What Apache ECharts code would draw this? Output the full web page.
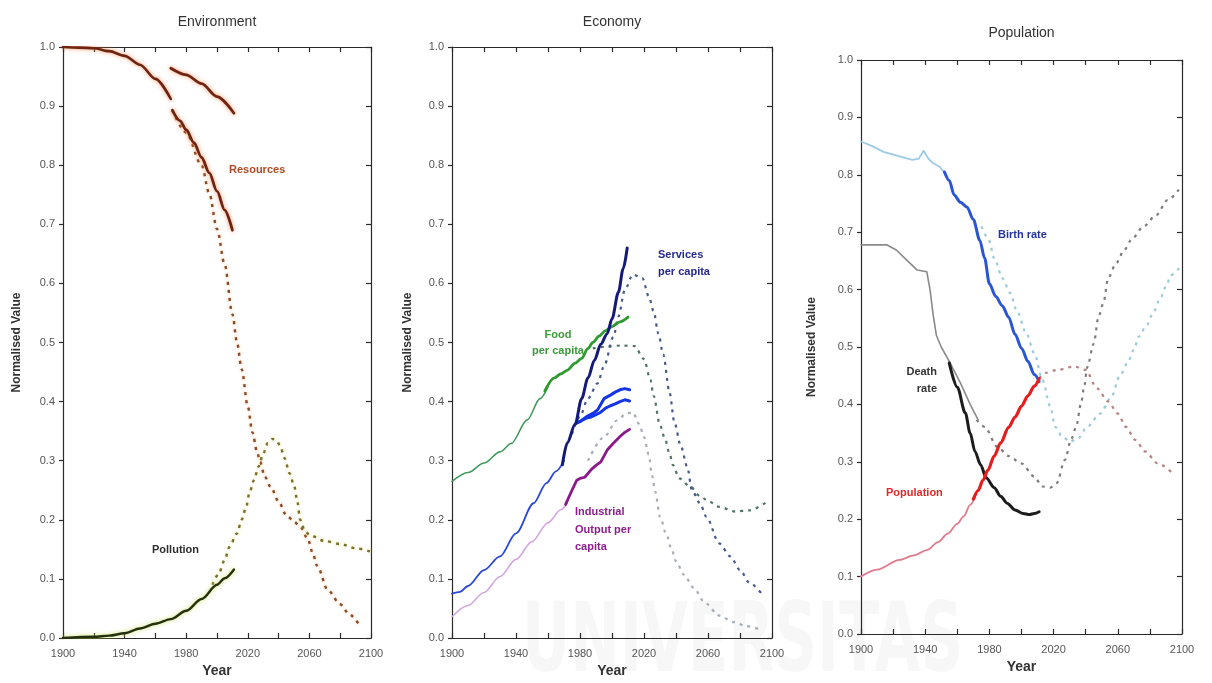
<!DOCTYPE html>
<html>
<head>
<meta charset="utf-8">
<title>Environment, Economy, Population</title>
<script src="https://cdn.jsdelivr.net/npm/echarts/dist/echarts.min.js"></script>
<style>
  html, body { margin: 0; padding: 0; background: #fff; }
  #chart { width: 1212px; height: 683px; }
</style>
</head>
<body>
<div id="chart"></div>
<script>
// ---------- Environment ----------
const resHistAYears = [1900, 1910, 1920, 1930, 1940, 1950, 1960, 1970];
const resHistAVals  = [1.000, 0.999, 0.998, 0.993, 0.985, 0.970, 0.946, 0.912];
const resHistBYears = [1971, 1976, 1980, 1985, 1990, 1995, 2000, 2005, 2010];
const resHistBVals  = [0.893, 0.875, 0.860, 0.838, 0.813, 0.787, 0.756, 0.724, 0.690];
const resHistCYears = [1970, 1980, 1990, 2000, 2011];
const resHistCVals  = [0.964, 0.953, 0.938, 0.916, 0.888];
const resModelYears = [1971, 1980, 1990, 1995, 2000, 2005, 2010, 2013, 2016, 2020, 2023, 2026, 2028, 2031, 2035, 2040, 2045, 2050, 2054, 2059, 2062, 2065, 2072, 2080, 2086, 2093];
const resModelVals  = [0.893, 0.855, 0.800, 0.752, 0.692, 0.632, 0.548, 0.500, 0.455, 0.392, 0.348, 0.315, 0.298, 0.273, 0.255, 0.231, 0.208, 0.197, 0.188, 0.168, 0.145, 0.122, 0.081, 0.057, 0.040, 0.020];
const polHistYears  = [1900, 1920, 1930, 1940, 1950, 1960, 1970, 1980, 1990, 2000, 2005, 2011];
const polHistVals   = [0.000, 0.002, 0.004, 0.008, 0.016, 0.024, 0.032, 0.046, 0.066, 0.090, 0.101, 0.116];
const polModelYears = [1997, 2001, 2005, 2008, 2013, 2016, 2019, 2021, 2024, 2027, 2030, 2033, 2036, 2039, 2041, 2044, 2047, 2050, 2052, 2054, 2057, 2060, 2070, 2080, 2090, 2100];
const polModelVals  = [0.090, 0.108, 0.132, 0.154, 0.177, 0.200, 0.222, 0.245, 0.267, 0.290, 0.312, 0.330, 0.337, 0.333, 0.325, 0.304, 0.279, 0.259, 0.234, 0.200, 0.182, 0.174, 0.164, 0.159, 0.152, 0.146];

// ---------- Economy ----------
const foodHistAYears = [1900, 1910, 1920, 1930, 1937, 1947, 1955, 1960];
const foodHistAVals  = [0.265, 0.280, 0.296, 0.315, 0.329, 0.369, 0.405, 0.425];
const foodHistBYears = [1958, 1964, 1968, 1972, 1977, 1981, 1985, 1988, 1992, 1996, 2000, 2005, 2010];
const foodHistBVals  = [0.418, 0.440, 0.447, 0.453, 0.465, 0.473, 0.490, 0.500, 0.511, 0.520, 0.527, 0.535, 0.543];
const svcHistAYears  = [1900, 1905, 1910, 1920, 1930, 1940, 1951, 1959, 1965, 1970];
const svcHistAVals   = [0.075, 0.078, 0.088, 0.115, 0.138, 0.177, 0.228, 0.262, 0.282, 0.300];
const svcHistBYears  = [1969, 1972, 1977, 1981, 1985, 1989, 1993, 1997, 2000, 2004, 2007, 2009.5];
const svcHistBVals   = [0.293, 0.330, 0.362, 0.405, 0.440, 0.470, 0.497, 0.515, 0.540, 0.585, 0.625, 0.660];
const svcDataAYears  = [1978, 1980, 1982, 1985, 1988, 1991, 1995, 1999, 2002, 2005, 2008, 2011];
const svcDataAVals   = [0.364, 0.366, 0.370, 0.376, 0.380, 0.386, 0.405, 0.411, 0.416, 0.420, 0.422, 0.420];
const svcDataBYears  = [1978, 1981, 1984, 1987, 1990, 1993, 1996, 1999, 2002, 2005, 2008, 2011];
const svcDataBVals   = [0.364, 0.368, 0.372, 0.374, 0.378, 0.382, 0.389, 0.393, 0.396, 0.400, 0.403, 0.401];
const indHistAYears  = [1900, 1910, 1920, 1930, 1940, 1950, 1960, 1968, 1972];
const indHistAVals   = [0.036, 0.055, 0.077, 0.104, 0.133, 0.163, 0.195, 0.217, 0.228];
const indHistBYears  = [1971, 1975, 1978, 1980, 1983, 1987, 1990, 1993, 1997, 2001, 2005, 2008, 2011];
const indHistBVals   = [0.226, 0.250, 0.267, 0.270, 0.272, 0.285, 0.292, 0.298, 0.318, 0.330, 0.341, 0.348, 0.353];
const svcModelYears  = [1975, 1980, 1985, 1991, 1995, 2001, 2004, 2008, 2013, 2019, 2023, 2026, 2029, 2032, 2036, 2039, 2043, 2047, 2050, 2055, 2059, 2067, 2074, 2080, 2086, 2095];
const svcModelVals   = [0.345, 0.375, 0.405, 0.431, 0.460, 0.510, 0.544, 0.589, 0.615, 0.609, 0.578, 0.553, 0.515, 0.480, 0.415, 0.365, 0.325, 0.290, 0.250, 0.228, 0.205, 0.160, 0.138, 0.115, 0.093, 0.070];
const foodModelYears = [1988, 1996, 2006, 2014, 2020, 2024, 2026, 2030, 2033, 2036, 2038, 2042, 2049, 2055, 2060, 2067, 2077, 2086, 2096];
const foodModelVals  = [0.490, 0.493, 0.495, 0.494, 0.472, 0.437, 0.410, 0.360, 0.338, 0.312, 0.293, 0.270, 0.256, 0.240, 0.232, 0.222, 0.214, 0.216, 0.229];
const indModelYears  = [1985, 1995, 2003, 2009, 2013, 2017, 2020, 2023, 2025, 2027, 2030, 2034, 2037, 2040, 2045, 2051, 2058, 2067, 2076, 2084, 2093];
const indModelVals   = [0.300, 0.340, 0.368, 0.380, 0.382, 0.362, 0.340, 0.310, 0.275, 0.248, 0.205, 0.175, 0.152, 0.130, 0.107, 0.085, 0.060, 0.038, 0.027, 0.020, 0.014];

// ---------- Population ----------
const birthHistAYears = [1900, 1907, 1914, 1924, 1932, 1936, 1939, 1942, 1945, 1949, 1954];
const birthHistAVals  = [0.858, 0.850, 0.840, 0.832, 0.826, 0.828, 0.842, 0.828, 0.820, 0.814, 0.797];
const birthHistBYears = [1952, 1955, 1958, 1962, 1966, 1970, 1974, 1977, 1980, 1984, 1988, 1992, 1996, 2000, 2004, 2008, 2011];
const birthHistBVals  = [0.805, 0.790, 0.765, 0.752, 0.744, 0.722, 0.686, 0.655, 0.610, 0.588, 0.572, 0.552, 0.522, 0.498, 0.475, 0.452, 0.440];
const deathHistAYears = [1900, 1916, 1922, 1929, 1935, 1941, 1943, 1945, 1947, 1950, 1955, 1962, 1968, 1973];
const deathHistAVals  = [0.678, 0.678, 0.669, 0.650, 0.634, 0.631, 0.600, 0.555, 0.520, 0.500, 0.475, 0.437, 0.400, 0.373];
const deathHistBYears = [1955, 1960, 1965, 1968, 1971, 1974.5, 1978, 1983, 1987, 1991, 1996, 2001, 2005, 2008, 2011];
const deathHistBVals  = [0.472, 0.430, 0.385, 0.350, 0.318, 0.295, 0.272, 0.255, 0.240, 0.228, 0.216, 0.210, 0.208, 0.210, 0.213];
const popHistAYears   = [1900, 1910, 1924, 1933, 1941, 1948, 1954, 1960, 1964, 1968, 1972];
const popHistAVals    = [0.100, 0.112, 0.129, 0.137, 0.146, 0.160, 0.175, 0.192, 0.205, 0.225, 0.245];
const popHistBYears   = [1970, 1973, 1976, 1979, 1983, 1987, 1992, 1996, 2000, 2004, 2008, 2011];
const popHistBVals    = [0.235, 0.250, 0.268, 0.285, 0.310, 0.333, 0.360, 0.378, 0.397, 0.415, 0.432, 0.445];
const birthModelYears = [1975, 1979, 1984, 1988, 1993, 1997, 2003, 2008, 2013, 2018, 2021, 2025, 2030, 2035, 2041, 2049, 2056, 2061, 2066, 2070, 2073, 2078, 2082, 2086, 2090, 2093, 2099];
const birthModelVals  = [0.710, 0.690, 0.648, 0.620, 0.594, 0.564, 0.524, 0.489, 0.443, 0.396, 0.361, 0.345, 0.335, 0.340, 0.361, 0.384, 0.413, 0.448, 0.472, 0.495, 0.518, 0.538, 0.559, 0.582, 0.605, 0.625, 0.640];
const deathModelYears = [1972, 1977, 1985, 1992, 2000, 2008, 2013, 2018, 2022, 2027, 2031, 2034, 2037, 2039, 2041, 2045, 2048, 2051, 2054, 2059, 2064, 2069, 2076, 2084, 2091, 2098];
const deathModelVals  = [0.373, 0.361, 0.326, 0.310, 0.297, 0.274, 0.257, 0.255, 0.263, 0.303, 0.340, 0.360, 0.400, 0.430, 0.465, 0.506, 0.553, 0.576, 0.620, 0.646, 0.669, 0.689, 0.710, 0.730, 0.756, 0.774];
const popModelYears   = [2011, 2015, 2022, 2033, 2040, 2047, 2054, 2060, 2065, 2071, 2077, 2085, 2095];
const popModelVals    = [0.445, 0.455, 0.460, 0.466, 0.460, 0.428, 0.405, 0.384, 0.361, 0.338, 0.318, 0.297, 0.278];

// ---------- Axis tick values ----------
const yearMin = 1900, yearMax = 2100, yearStep = 20, yearLabelStep = 40;
const valueMin = 0, valueMax = 1, valueStep = 0.1;

const FONT = '"Liberation Sans", Arial, sans-serif';
const AXIS_COLOR = '#2a2a2a';

// panel frames (pixels)
const panels = [
  { left: 63,  top: 47, width: 308, height: 591, title: 'Environment', titleY: 22, nameGap: 40 },
  { left: 452, top: 47, width: 320, height: 591, title: 'Economy',     titleY: 22, nameGap: 38 },
  { left: 861, top: 60, width: 321, height: 574, title: 'Population',  titleY: 33, nameGap: 43 }
];

function pairs(xs, ys) { return xs.map((x, i) => [x, ys[i]]); }

function line(panel, xs, ys, color, width, opts) {
  opts = opts || {};
  const dotted = !!opts.dash;
  const ls = { color: color, width: width, type: opts.dash || 'solid', cap: dotted ? 'butt' : 'round', join: 'round' };
  if (opts.glow) { ls.shadowColor = opts.glow; ls.shadowBlur = opts.glowBlur || 4; }
  return {
    type: 'line',
    xAxisIndex: panel * 2,
    yAxisIndex: panel * 2,
    data: pairs(xs, ys),
    showSymbol: false,
    symbol: 'none',
    smooth: opts.smooth === undefined ? 0.3 : opts.smooth,
    smoothMonotone: 'x',
    silent: true,
    z: opts.z || 2,
    lineStyle: ls
  };
}

const DOT = [3, 5];

const series = [
  // Environment
  line(0, resModelYears, resModelVals, '#8a4a28', 2.4, { dash: DOT, glow: 'rgba(240,160,90,0.7)', glowBlur: 3 }),
  line(0, polModelYears, polModelVals, '#77702e', 2.4, { dash: DOT, glow: 'rgba(235,225,110,0.8)', glowBlur: 3 }),
  line(0, resHistAYears, resHistAVals, '#6e2410', 2.6, { glow: 'rgba(235,120,60,0.8)', z: 3 }),
  line(0, resHistBYears, resHistBVals, '#6e2410', 2.8, { glow: 'rgba(235,120,60,0.8)', z: 3 }),
  line(0, resHistCYears, resHistCVals, '#6e2410', 2.8, { glow: 'rgba(235,120,60,0.8)', z: 3 }),
  line(0, polHistYears, polHistVals, '#24300e', 2.4, { glow: 'rgba(200,220,80,0.9)', z: 3 }),

  // Economy
  line(1, indModelYears, indModelVals, '#a6adb6', 2.2, { dash: DOT }),
  line(1, foodModelYears, foodModelVals, '#4f7466', 2.2, { dash: DOT }),
  line(1, svcModelYears, svcModelVals, '#45598c', 2.2, { dash: DOT }),
  line(1, foodHistAYears, foodHistAVals, '#3f9a5a', 1.6, { z: 3 }),
  line(1, foodHistBYears, foodHistBVals, '#2f9a2f', 2.8, { z: 3 }),
  line(1, indHistAYears, indHistAVals, '#d2a6de', 1.6, { z: 3 }),
  line(1, indHistBYears, indHistBVals, '#8a1a8c', 2.8, { z: 3, smooth: 0 }),
  line(1, svcHistAYears, svcHistAVals, '#2a48d8', 1.8, { z: 3 }),
  line(1, svcDataAYears, svcDataAVals, '#1434e6', 3.0, { z: 3, smooth: 0 }),
  line(1, svcDataBYears, svcDataBVals, '#1434e6', 3.0, { z: 3, smooth: 0 }),
  line(1, svcHistBYears, svcHistBVals, '#141a78', 3.0, { z: 4 }),

  // Population
  line(2, birthModelYears, birthModelVals, '#9ccbd8', 2.2, { dash: DOT }),
  line(2, deathModelYears, deathModelVals, '#7c7c7c', 2.2, { dash: DOT }),
  line(2, popModelYears, popModelVals, '#b88080', 2.2, { dash: DOT }),
  line(2, birthHistAYears, birthHistAVals, '#9ccbe6', 1.8, { z: 3, smooth: 0 }),
  line(2, birthHistBYears, birthHistBVals, '#2a56d6', 3.0, { z: 3 }),
  line(2, deathHistAYears, deathHistAVals, '#8a8a8a', 1.6, { z: 3, smooth: 0 }),
  line(2, deathHistBYears, deathHistBVals, '#1c1c1c', 3.0, { z: 3 }),
  line(2, popHistAYears, popHistAVals, '#e07a8c', 1.8, { z: 3 }),
  line(2, popHistBYears, popHistBVals, '#e81c1c', 3.2, { z: 4 })
];

const grids = panels.map(p => ({ left: p.left, top: p.top, width: p.width, height: p.height, containLabel: false }));

const xAxes = [];
const yAxes = [];
panels.forEach((p, g) => {
  const lineStyle = { color: AXIS_COLOR, width: 1.2 };
  xAxes.push({
    gridIndex: g, type: 'value', min: yearMin, max: yearMax, interval: yearStep, position: 'bottom',
    name: 'Year', nameLocation: 'middle', nameGap: 26,
    nameTextStyle: { fontFamily: FONT, fontWeight: 'bold', fontSize: 14, color: '#333' },
    axisLine: { show: true, onZero: false, lineStyle },
    axisTick: { show: true, inside: true, length: 5, lineStyle },
    axisLabel: {
      fontFamily: FONT, fontSize: 11, color: '#555', margin: 10,
      formatter: v => ((v - yearMin) % yearLabelStep === 0 ? String(v) : '')
    },
    splitLine: { show: false }
  });
  xAxes.push({
    gridIndex: g, type: 'value', min: yearMin, max: yearMax, interval: yearStep, position: 'top',
    axisLine: { show: true, onZero: false, lineStyle },
    axisTick: { show: true, inside: true, length: 5, lineStyle },
    axisLabel: { show: false },
    splitLine: { show: false }
  });
  yAxes.push({
    gridIndex: g, type: 'value', min: valueMin, max: valueMax, interval: valueStep, position: 'left',
    name: 'Normalised Value', nameLocation: 'middle', nameGap: p.nameGap, nameRotate: 90,
    nameTextStyle: { fontFamily: FONT, fontWeight: 'bold', fontSize: 12, color: '#333' },
    axisLine: { show: true, onZero: false, lineStyle },
    axisTick: { show: true, inside: false, length: 4, lineStyle },
    axisLabel: { fontFamily: FONT, fontSize: 11, color: '#555', margin: 8, formatter: v => v.toFixed(1) },
    splitLine: { show: false }
  });
  yAxes.push({
    gridIndex: g, type: 'value', min: valueMin, max: valueMax, interval: valueStep, position: 'right',
    axisLine: { show: true, onZero: false, lineStyle },
    axisTick: { show: true, inside: true, length: 5, lineStyle },
    axisLabel: { show: false },
    splitLine: { show: false }
  });
});

function label(x, y, text, color, align) {
  return {
    type: 'text', x: x, y: y, z: 20, silent: true,
    style: { text: text, fill: color, fontFamily: FONT, fontSize: 11, fontWeight: 'bold',
             align: align || 'left', verticalAlign: 'middle' }
  };
}

const graphics = [
  // faint watermark lettering behind the panels
  {
    type: 'text', x: 522, y: 598, z: -10, silent: true, scaleY: 1.45,
    style: { text: 'UNIVERSITAS', fill: 'rgba(0,0,0,0.03)', fontFamily: '"DejaVu Sans Condensed", "Liberation Sans", sans-serif',
             fontSize: 66, fontWeight: 'bold', align: 'left', verticalAlign: 'top' }
  }
];
panels.forEach(p => {
  graphics.push({
    type: 'text', x: p.left + p.width / 2, y: p.titleY, z: 20, silent: true,
    style: { text: p.title, fill: '#333', fontFamily: FONT, fontSize: 14, align: 'center', verticalAlign: 'middle' }
  });
});
graphics.push(
  label(229, 170, 'Resources', '#b24a22'),
  label(152, 550, 'Pollution', '#2e2e2e'),
  label(558, 335, 'Food', '#3a9a3a', 'center'),
  label(558, 351, 'per capita', '#3a9a3a', 'center'),
  label(658, 255, 'Services', '#262a8c'),
  label(658, 272, 'per capita', '#262a8c'),
  label(575, 512, 'Industrial', '#8e1e8e'),
  label(575, 530, 'Output per', '#8e1e8e'),
  label(575, 547, 'capita', '#8e1e8e'),
  label(998, 235, 'Birth rate', '#2434a0'),
  label(937, 372, 'Death', '#333', 'right'),
  label(937, 389, 'rate', '#333', 'right'),
  label(886, 493, 'Population', '#e02a2a')
);

const chart = echarts.init(document.getElementById('chart'), null, { renderer: 'canvas' });
chart.setOption({
  animation: false,
  backgroundColor: '#ffffff',
  grid: grids,
  xAxis: xAxes,
  yAxis: yAxes,
  series: series,
  graphic: graphics
});
</script>
</body>
</html>
